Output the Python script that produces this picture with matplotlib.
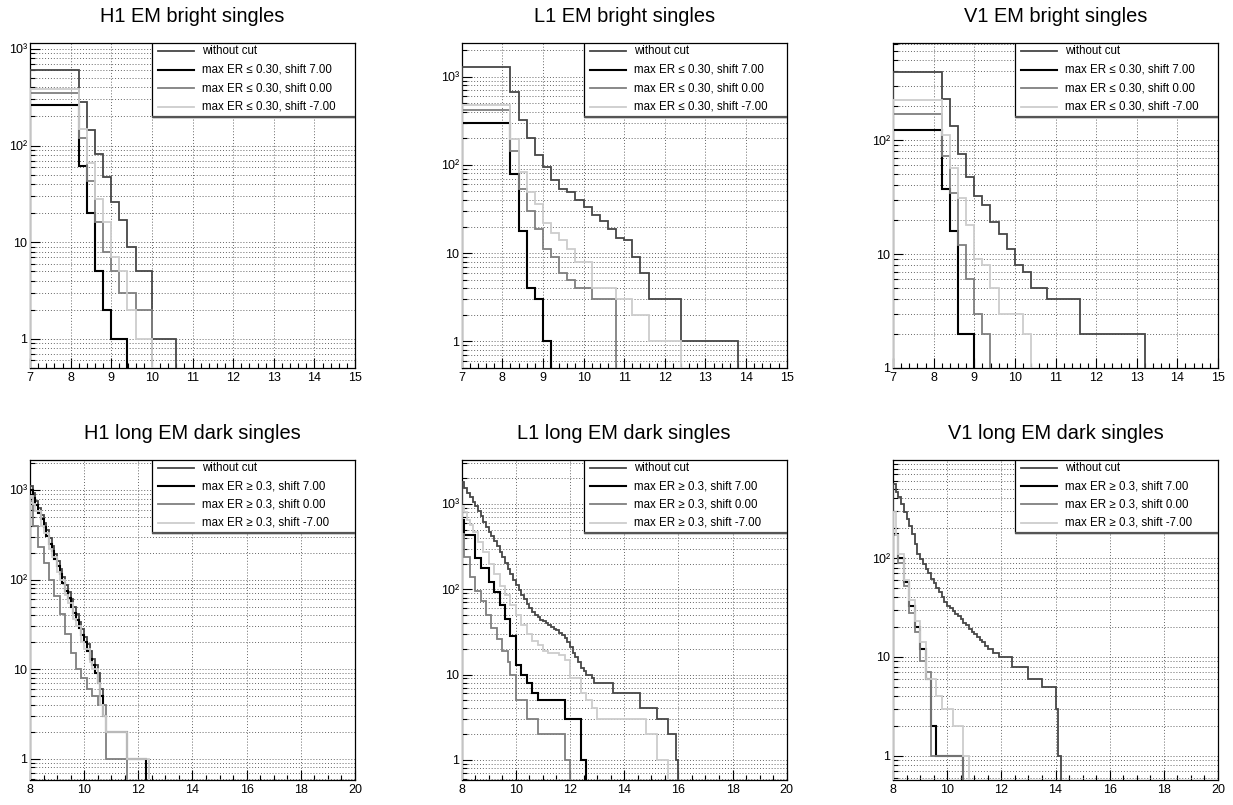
import numpy as np
import matplotlib
matplotlib.use("Agg")
import matplotlib.pyplot as plt
from matplotlib.patches import Rectangle
from matplotlib.ticker import MultipleLocator, LogLocator, FuncFormatter, NullFormatter

plt.rcParams['font.family'] = ['Liberation Sans', 'DejaVu Sans']

# --- labels ---
titles_top = ["H1 EM bright singles", "L1 EM bright singles", "V1 EM bright singles"]
titles_bottom = ["H1 long EM dark singles", "L1 long EM dark singles", "V1 long EM dark singles"]
labels_bright = ["without cut", "max ER \u2264 0.30, shift 7.00",
                 "max ER \u2264 0.30, shift 0.00", "max ER \u2264 0.30, shift -7.00"]
labels_dark = ["without cut", "max ER \u2265 0.3, shift 7.00",
               "max ER \u2265 0.3, shift 0.00", "max ER \u2265 0.3, shift -7.00"]
colors = ['#474747', '#000000', '#7f7f7f', '#cdcdcd']
widths = [1.3, 1.5, 1.3, 1.3]

# --- bright singles: first bin 7.0-8.2, then 0.2 wide bins ---
h1_bright_nocut = [605, 282, 146, 81, 47, 26, 17, 9, 5, 5, 1, 1, 1]
h1_bright_p7 = [264, 61, 20, 5, 2, 1, 1]
h1_bright_0 = [348, 120, 43, 16, 8, 5, 3, 3, 2, 2]
h1_bright_m7 = [387, 148, 66, 28, 16, 7, 5, 2, 1, 1]

l1_bright_nocut = [1276, 665, 318, 200, 130, 94, 68, 53, 49, 40, 33, 27, 23, 19, 15,
                   14, 9, 6, 3, 3, 3, 3, 1, 1, 1, 1, 1, 1, 1]
l1_bright_p7 = [299, 79, 18, 4, 3, 1]
l1_bright_0 = [420, 145, 53, 30, 19, 11, 9, 6, 5, 4, 4, 3, 3, 3]
l1_bright_m7 = [478, 197, 84, 49, 36, 22, 17, 14, 11, 8, 8, 4, 4, 4, 3, 3, 2, 2,
                1, 1, 1, 1]

v1_bright_nocut = [392, 230, 132, 75, 47, 32, 27, 19, 15, 11, 8, 7, 5, 5, 4, 4, 4, 4,
                   2, 2, 2, 2, 2, 2, 2, 2]
v1_bright_p7 = [123, 37, 16, 2, 2]
v1_bright_0 = [169, 72, 34, 12, 6, 3, 2]
v1_bright_m7 = [226, 111, 57, 31, 18, 9, 8, 5, 3, 3, 3, 2]

# --- long dark singles: 0.1 wide bins from 8.0 ---
h1_dark_nocut = [1100, 920, 760, 630, 520, 430, 355, 290, 240, 195,
                 160, 132, 108, 88, 73, 60, 50, 41, 34, 28,
                 23, 19, 16, 13, 11, 9, 6, 3, 2, 2,
                 2, 2, 2, 2, 2, 2, 1, 1, 1, 1, 1, 1, 1]
h1_dark_p7 = [1000, 820, 680, 560, 470, 390, 310, 250, 210, 170,
              140, 115, 92, 75, 62, 50, 42, 35, 29, 24,
              20, 16, 13, 11, 9, 7, 5, 3, 2, 2,
              2, 2, 2, 2, 2, 2, 1, 1, 1, 1, 1, 1, 1]
h1_dark_0 = [750, 400, 400, 233, 233, 152, 152, 100, 100, 66,
             66, 41, 41, 25, 25, 15, 15, 10, 10, 8,
             8, 6, 6, 5, 5, 4, 4, 4, 1, 1,
             1, 1, 1, 1, 1, 1]
h1_dark_m7 = [850, 700, 580, 580, 400, 330, 330, 220, 180, 180,
              120, 100, 100, 68, 55, 55, 36, 30, 30, 20,
              17, 17, 12, 10, 10, 7, 4, 3, 2, 2,
              2, 2, 2, 2, 2, 2, 1, 1, 1, 1, 1, 1, 1, 1]

l1_dark_nocut = [1800, 1550, 1350, 1200, 1050, 950, 830, 720, 620, 540,
                 470, 420, 370, 320, 275, 240, 205, 175, 150, 130,
                 112, 98, 86, 76, 67, 60, 54, 50, 47, 44,
                 42, 40, 38, 36, 34, 33, 31, 29, 27, 24,
                 21, 18, 16, 14, 12, 11, 10, 10, 9, 8,
                 8, 8, 8, 8, 8, 8, 6, 6, 6, 6,
                 6, 6, 6, 6, 6, 6, 4, 4, 4, 4,
                 4, 4, 3, 3, 3, 3, 2, 2, 2, 1]
l1_dark_p7 = [650, 430, 430, 430, 430, 230, 230, 176, 176, 176,
              123, 123, 94, 94, 65, 65, 45, 45, 28, 28,
              13, 13, 10, 10, 8, 8, 6, 6, 5, 5,
              5, 5, 5, 5, 5, 5, 5, 5, 3, 3,
              3, 3, 3, 3, 1, 1]
l1_dark_0 = [450, 240, 240, 140, 140, 95, 95, 72, 72, 50,
             50, 35, 35, 26, 26, 19, 19, 14, 10, 10,
             5, 5, 5, 5, 3, 3, 3, 3, 2, 2,
             2, 2, 2, 2, 2, 2, 2, 2, 1, 1]
l1_dark_m7 = [950, 800, 650, 560, 470, 470, 360, 360, 270, 270,
              200, 200, 150, 150, 110, 110, 85, 85, 65, 65,
              50, 50, 38, 38, 30, 30, 25, 25, 22, 22,
              19, 19, 18, 18, 18, 18, 17, 17, 15, 15,
              9, 9, 9, 9, 6, 6, 5, 5, 4, 4,
              3, 3, 3, 3, 3, 3, 3, 3, 3, 3,
              3, 3, 3, 3, 3, 3, 3, 3, 2, 2,
              2, 2, 1, 1, 1, 1]

v1_dark_nocut = [560, 470, 410, 350, 290, 250, 210, 175, 140, 110,
                 98, 88, 78, 70, 62, 56, 50, 45, 40, 36,
                 33, 31, 29, 27, 26, 24, 22, 21, 19, 18,
                 17, 16, 15, 14, 13, 12, 12, 11, 11, 10,
                 10, 10, 10, 10, 8, 8, 8, 8, 8, 8,
                 6, 6, 6, 6, 6, 5, 5, 5, 5, 5,
                 3, 1]
v1_dark_p7 = [175, 175, 100, 100, 57, 57, 33, 33, 20, 20,
              12, 12, 6, 6, 2, 2, 1, 1, 1, 1,
              1, 1, 1, 1, 1, 1]
v1_dark_0 = [170, 170, 90, 90, 52, 52, 28, 28, 18, 18,
             9, 9, 7, 7, 1, 1, 1, 1, 1, 1,
             1, 1, 1, 1, 1, 1]
v1_dark_m7 = [290, 170, 110, 110, 60, 60, 38, 38, 23, 23,
              14, 14, 6, 6, 6, 6, 4, 4, 3, 3,
              3, 3, 2, 2, 2, 2, 1, 1]

top_series = [
    [h1_bright_nocut, h1_bright_p7, h1_bright_0, h1_bright_m7],
    [l1_bright_nocut, l1_bright_p7, l1_bright_0, l1_bright_m7],
    [v1_bright_nocut, v1_bright_p7, v1_bright_0, v1_bright_m7],
]
bottom_series = [
    [h1_dark_nocut, h1_dark_p7, h1_dark_0, h1_dark_m7],
    [l1_dark_nocut, l1_dark_p7, l1_dark_0, l1_dark_m7],
    [v1_dark_nocut, v1_dark_p7, v1_dark_0, v1_dark_m7],
]
top_ylims = [(0.5, 1150), (0.5, 2400), (1, 710)]
bottom_ylims = [(0.58, 2160), (0.58, 3280), (0.57, 980)]


def bright_edges(n):
    return np.concatenate([[7.0], 8.2 + 0.2 * np.arange(n)])


def dark_edges(n):
    return 8.0 + 0.1 * np.arange(n + 1)


def ylabel(v, pos):
    names = {1: "1", 10: "10", 100: "10\u00b2", 1000: "10\u00b3"}
    k = int(round(v))
    if abs(v - k) < 1e-6 and k in names:
        return names[k]
    return ""


def draw_panel(ax, series, labels, edges_fn, xlim, ylim, xmaj, xmin):
    for counts, c, lw in zip(series, colors, widths):
        ax.stairs(counts, edges_fn(len(counts)), baseline=1e-3, color=c, lw=lw, zorder=3)
    ax.set_yscale('log')
    ax.set_xlim(*xlim)
    ax.set_ylim(*ylim)
    ax.xaxis.set_major_locator(MultipleLocator(xmaj))
    ax.xaxis.set_minor_locator(MultipleLocator(xmin))
    ax.yaxis.set_major_locator(LogLocator(base=10))
    ax.yaxis.set_minor_locator(LogLocator(base=10, subs=np.arange(2, 10)))
    ax.yaxis.set_major_formatter(FuncFormatter(ylabel))
    ax.yaxis.set_minor_formatter(NullFormatter())
    ax.tick_params(which='both', direction='in', top=False, right=False,
                   labelsize=9, width=0.8)
    ax.tick_params(which='major', length=7)
    ax.tick_params(which='minor', length=3.5)
    ax.tick_params(axis='x', pad=3)
    ax.tick_params(axis='y', pad=2)
    gkw = dict(color='0.4', linestyle=(0, (1, 2)), linewidth=0.7)
    ax.grid(which='major', axis='x', **gkw)
    ax.grid(which='both', axis='y', **gkw)
    for s in ax.spines.values():
        s.set_linewidth(0.9)

    # legend box, ROOT style
    ax.add_patch(Rectangle((0.375, 0.773), 0.625, 0.227, transform=ax.transAxes,
                           facecolor='white', edgecolor='black', lw=0.9, zorder=5))
    ax.plot([0.375, 1.0], [0.773, 0.773], transform=ax.transAxes, color='#555555',
            lw=1.6, zorder=6, solid_capstyle='butt')
    for i, (lab, c, lw) in enumerate(zip(labels, colors, widths)):
        y = 0.975 - i * 0.057
        ax.plot([0.394, 0.505], [y, y], transform=ax.transAxes, color=c, lw=lw, zorder=6)
        ax.text(0.529, y, lab, transform=ax.transAxes, fontsize=8.3,
                va='center', ha='left', zorder=7)


fig = plt.figure(figsize=(12.33, 8.05), dpi=100)
lefts = [30 / 1233, 461.7 / 1233, 893 / 1233]
w = 325 / 1233

for j in range(3):
    ax = fig.add_axes([lefts[j], 1 - 368 / 805, w, 325 / 805])
    draw_panel(ax, top_series[j], labels_bright, bright_edges, (7, 15),
               top_ylims[j], 1, 0.2)
    fig.text(lefts[j] + w / 2, 1 - 16 / 805, titles_top[j], ha='center',
             va='center', fontsize=14.4)

    ax = fig.add_axes([lefts[j], 1 - 780 / 805, w, 320 / 805])
    draw_panel(ax, bottom_series[j], labels_dark, dark_edges, (8, 20),
               bottom_ylims[j], 2, 0.5)
    fig.text(lefts[j] + w / 2, 1 - 433 / 805, titles_bottom[j], ha='center',
             va='center', fontsize=14.4)

fig.savefig("out.png", dpi=100)
